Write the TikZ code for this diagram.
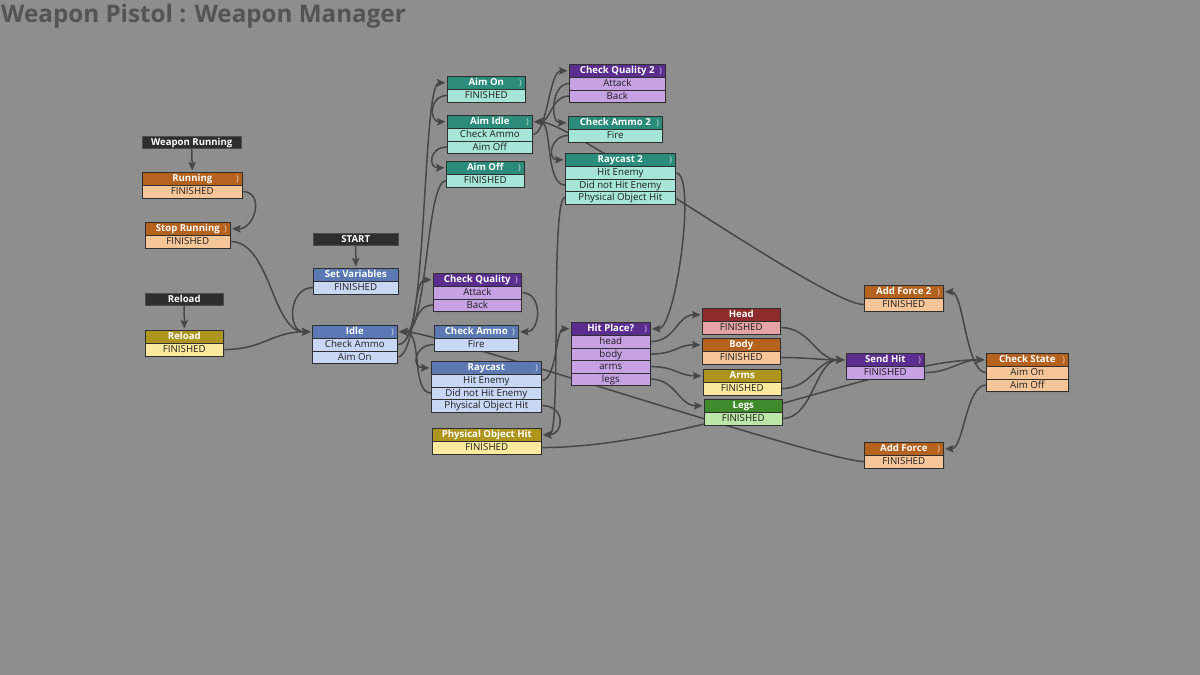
\documentclass[tikz,border=0pt]{standalone}
\usepackage{fontspec}
\setmainfont{Open Sans}
\usetikzlibrary{arrows.meta,shadows}
\definecolor{bgc}{HTML}{8E8E8E}
\definecolor{hdc}{HTML}{545454}
\definecolor{edgec}{HTML}{474747}
\definecolor{bordc}{HTML}{2F2F2F}
\definecolor{gevc}{HTML}{2E2E2E}
\definecolor{tO}{HTML}{B5621F}\definecolor{rO}{HTML}{F6C699}
\definecolor{tB}{HTML}{5C79B3}\definecolor{rB}{HTML}{C8D8F4}
\definecolor{tT}{HTML}{2C8C7B}\definecolor{rT}{HTML}{A6E6D8}
\definecolor{tP}{HTML}{5B2D8E}\definecolor{rP}{HTML}{C6A1E4}
\definecolor{tY}{HTML}{AE961E}\definecolor{rY}{HTML}{FBEA9E}
\definecolor{tR}{HTML}{8E2B2B}\definecolor{rR}{HTML}{E6A3A3}
\definecolor{tG}{HTML}{3F8B2B}\definecolor{rG}{HTML}{BCE6A8}
\pgfdeclarelayer{bgl}\pgfdeclarelayer{edges}
\pgfsetlayers{bgl,edges,main}
\newcommand\rowfnt{\fontsize{9.7}{11}\selectfont}
\newcommand\ttlfnt{\fontsize{9.6}{11}\selectfont\bfseries}
\tikzset{
  ttl/.style={draw=bordc, line width=0.6pt, fill=#1, text=white, font=\ttlfnt,
    minimum height=13pt, inner sep=0pt, anchor=north west,
    text height=7.7pt, text depth=1.6pt,
    drop shadow={shadow xshift=1.2pt,shadow yshift=-1.5pt,opacity=.35}},
  rowbox/.style={draw=bordc, line width=0.6pt, fill=#1, text=black!88, font=\rowfnt,
    minimum height=12.5pt, inner sep=0pt, anchor=north west,
    text height=7.7pt, text depth=1.6pt,
    drop shadow={shadow xshift=1.2pt,shadow yshift=-1.5pt,opacity=.35}},
  gev/.style={draw=black!70, fill=gevc, text=white, font=\ttlfnt,
    minimum height=12pt, inner sep=0pt, anchor=north west,
    text height=7.7pt, text depth=1.6pt},
  icon/.style={text=#1!45!white, font=\fontsize{8}{8}\selectfont\bfseries, inner sep=0pt},
  tr/.style={draw=edgec, line width=1.5pt, shorten >=1.5pt,
    -{Stealth[length=8.5pt,width=7.5pt,inset=1.5pt]}},
}
% #1 name #2 x #3 y #4 width #5 theme #6 title #7 rows #8 icon
\newcommand\fsm[8]{%
  \node[ttl=t#5, minimum width=#4pt] (#1) at (#2,#3) {#6};
  \ifnum#8=1 \node[icon=t#5] at ([xshift=-5pt]#1.east) {)};\fi
  \foreach \r [count=\i] in {#7}{%
    \node[rowbox=r#5, minimum width=#4pt] (#1-\i) at (#2,{#3+13+(\i-1)*12.5}) {\r};}%
}
\begin{document}
\begin{tikzpicture}[x=1pt,y=-1pt]
\begin{pgfonlayer}{bgl}
  \fill[bgc] (0,0) rectangle (1200,675);
\end{pgfonlayer}
\useasboundingbox (0,0) rectangle (1200,675);
\node[anchor=base west, inner sep=0pt, text=hdc, font=\fontsize{24.2}{28}\selectfont\bfseries] (hdr) at (1,22) {Weapon Pistol : Weapon Manager};

% global events
\node[gev, minimum width=99pt] (wr) at (142,136) {Weapon Running};
\node[gev, minimum width=85pt] (start) at (313,233) {START};
\node[gev, minimum width=78pt] (reloadg) at (145,293) {Reload};

% states
\fsm{running}{142}{172}{100}{O}{Running}{FINISHED}{1}
\fsm{stoprun}{145}{222}{85}{O}{Stop Running}{FINISHED}{1}
\fsm{reload}{145}{330}{78}{Y}{Reload}{FINISHED}{0}
\fsm{setvar}{313}{268}{85}{B}{Set Variables}{FINISHED}{0}
\fsm{idle}{312}{325}{85}{B}{Idle}{Check Ammo,Aim On}{1}
\fsm{aimon}{447}{76}{78}{T}{Aim On}{FINISHED}{1}
\fsm{aimidle}{447}{115}{85}{T}{Aim Idle}{Check Ammo,Aim Off}{1}
\fsm{aimoff}{446}{161}{78}{T}{Aim Off}{FINISHED}{1}
\fsm{cqb}{569}{64}{96}{P}{Check Quality 2}{Attack,Back}{1}
\fsm{cab}{568}{116}{94}{T}{Check Ammo 2}{Fire}{1}
\fsm{rcb}{565}{153}{110}{T}{Raycast 2}{Hit Enemy,Did not Hit Enemy,Physical Object Hit}{1}
\fsm{cq}{433}{273}{88}{P}{Check Quality}{Attack,Back}{1}
\fsm{ca}{434}{325}{84}{B}{Check Ammo}{Fire}{1}
\fsm{rc}{431}{361}{110}{B}{Raycast}{Hit Enemy,Did not Hit Enemy,Physical Object Hit}{1}
\fsm{poh}{432}{428}{109}{Y}{Physical Object Hit}{FINISHED}{0}
\fsm{hp}{571}{322}{79}{P}{Hit Place?}{head,body,arms,legs}{1}
\fsm{head}{702}{308}{78}{R}{Head}{FINISHED}{0}
\fsm{body}{702}{338}{78}{O}{Body}{FINISHED}{0}
\fsm{arms}{703}{369}{78}{Y}{Arms}{FINISHED}{0}
\fsm{legs}{704}{399}{78}{G}{Legs}{FINISHED}{0}
\fsm{afb}{864}{285}{79}{O}{Add Force 2}{FINISHED}{1}
\fsm{sendhit}{846}{353}{78}{P}{Send Hit}{FINISHED}{1}
\fsm{cs}{986}{353}{82}{O}{Check State}{Aim On,Aim Off}{1}
\fsm{af}{864}{442}{79}{O}{Add Force}{FINISHED}{1}

\begin{pgfonlayer}{edges}
\draw[tr] (wr.south) -- (running.north);
\draw[tr] (start.south) -- (setvar.north);
\draw[tr] (reloadg.south) -- (reload.north);
\draw[tr] (running-1.east) .. controls +(22,0) and +(25,0) .. (stoprun.east);
\draw[tr] (stoprun-1.east) .. controls +(40,0) and +(-40,0) .. (idle.west);
\draw[tr] (setvar-1.west) .. controls +(-25,0) and +(-25,0) .. (idle.west);
\draw[tr] (reload-1.east) .. controls +(40,0) and +(-40,0) .. (idle.west);
\draw[tr] (idle-1.east) .. controls +(20,0) and +(-20,0) .. (cq.west);
\draw[tr] (idle-2.east) .. controls +(30,0) and +(-25,0) .. (aimon.west);
\draw[tr] (cq-1.east) .. controls +(22,0) and +(22,0) .. (ca.east);
\draw[tr] (cq-2.west) .. controls +(-20,0) and +(20,0) .. (idle.east);
\draw[tr] (ca-1.west) .. controls +(-20,0) and +(-20,0) .. (rc.west);
\draw[tr] (rc-1.east) .. controls +(15,0) and +(-15,0) .. (hp.west);
\draw[tr] (rc-2.west) .. controls +(-20,0) and +(25,0) .. (idle.east);
\draw[tr] (rc-3.east) .. controls +(25,0) and +(22,0) .. (poh.east);
\draw[tr] (poh-1.east) .. controls +(150,0) and +(-100,0) .. (cs.west);
\draw[tr] (aimon-1.west) .. controls +(-18,0) and +(-18,0) .. (aimidle.west);
\draw[tr] (aimidle-2.west) .. controls +(-18,0) and +(-18,0) .. (aimoff.west);
\draw[tr] (aimoff-1.west) .. controls +(-20,0) and +(30,0) .. (idle.east);
\draw[tr] (aimidle-1.east) .. controls +(15,0) and +(-20,0) .. (cqb.west);
\draw[tr] (cqb-1.west) .. controls +(-18,0) and +(-18,0) .. (cab.west);
\draw[tr] (cqb-2.west) .. controls +(-18,0) and +(18,0) .. (aimidle.east);
\draw[tr] (cab-1.west) .. controls +(-18,0) and +(-18,0) .. (rcb.west);
\draw[tr] (rcb-1.east) .. controls +(22,0) and +(25,0) .. (hp.east);
\draw[tr] (rcb-2.west) .. controls +(-20,0) and +(20,0) .. (aimidle.east);
\draw[tr] (rcb-3.west) .. controls +(-15,0) and +(20,0) .. (poh.east);
\draw[tr] (hp-1.east) .. controls +(25,0) and +(-25,0) .. (head.west);
\draw[tr] (hp-2.east) .. controls +(25,0) and +(-25,0) .. (body.west);
\draw[tr] (hp-3.east) .. controls +(25,0) and +(-25,0) .. (arms.west);
\draw[tr] (hp-4.east) .. controls +(25,0) and +(-25,0) .. (legs.west);
\draw[tr] (head-1.east) .. controls +(30,0) and +(-30,0) .. (sendhit.west);
\draw[tr] (body-1.east) .. controls +(30,0) and +(-30,0) .. (sendhit.west);
\draw[tr] (arms-1.east) .. controls +(30,0) and +(-30,0) .. (sendhit.west);
\draw[tr] (legs-1.east) .. controls +(30,0) and +(-30,0) .. (sendhit.west);
\draw[tr] (sendhit-1.east) .. controls +(25,0) and +(-25,0) .. (cs.west);
\draw[tr] (cs-1.west) .. controls +(-20,0) and +(20,0) .. (afb.east);
\draw[tr] (cs-2.west) .. controls +(-20,0) and +(20,0) .. (af.east);
\draw[tr] (afb-1.west) .. controls +(-40,0) and +(40,0) .. (aimidle.east);
\draw[tr] (af-1.west) .. controls +(-40,0) and +(40,0) .. (idle.east);
\end{pgfonlayer}
\end{tikzpicture}
\end{document}
